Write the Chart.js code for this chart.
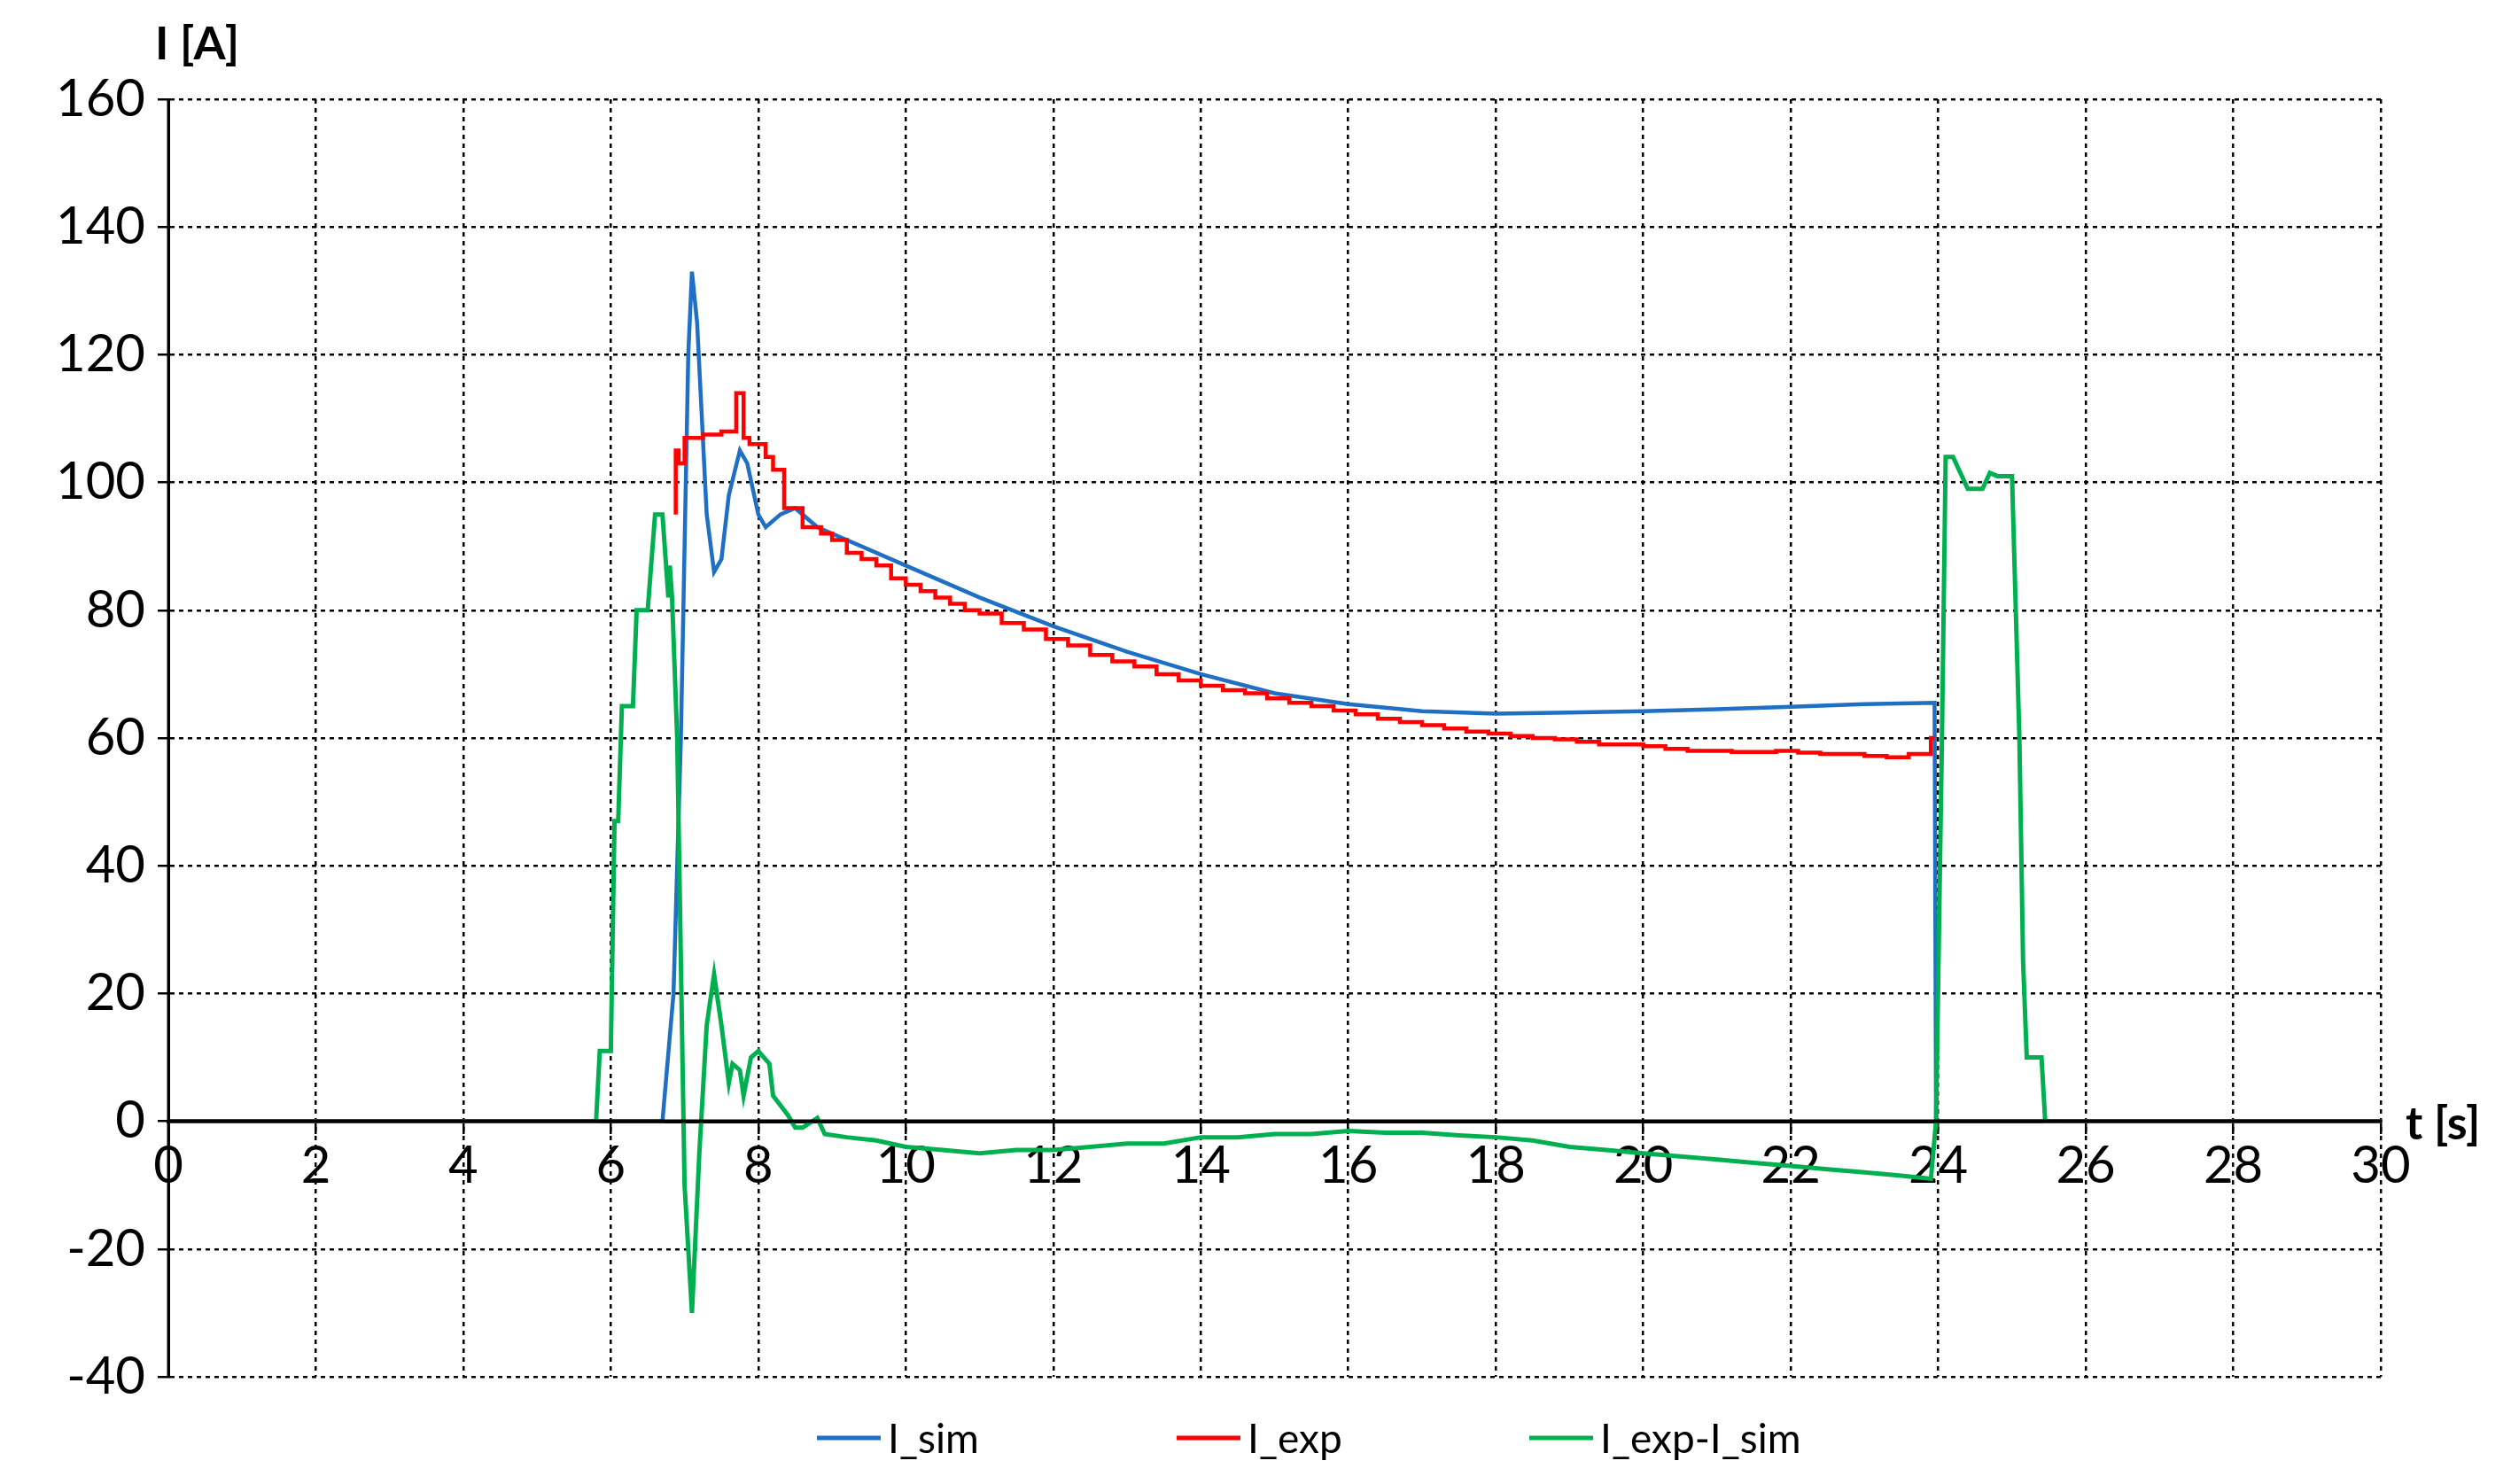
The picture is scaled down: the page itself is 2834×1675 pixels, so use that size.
<!DOCTYPE html>
<html><head><meta charset="utf-8">
<script src="https://cdn.jsdelivr.net/npm/chart.js@4.4.1/dist/chart.umd.min.js"></script>
<style>html,body{margin:0;padding:0;background:#fff}#w{width:2834px;height:1675px}</style>
</head><body><div id="w"><canvas id="c"></canvas></div>
<script>
const simT=[0,6.7,6.85,6.95,7.05,7.1,7.17,7.3,7.4,7.5,7.6,7.75,7.85,8.0,8.1,8.3,8.5,8.8,9.0,10,11,12,13,14,15,16,17,18,19,20,21,22,23,23.95,23.97,30];
const simV=[0,0,20,60,120,133,125,95,86,88,98,105,103,95,93,95,96,93,92,87,82,77.5,73.5,70,67,65.3,64.2,63.8,64,64.2,64.5,64.9,65.3,65.5,0,0];
const expT=[6.88,6.92,7.0,7.25,7.5,7.7,7.8,7.88,8.1,8.2,8.35,8.6,8.85,9.0,9.2,9.4,9.6,9.8,10.0,10.2,10.4,10.6,10.8,11.0,11.3,11.6,11.9,12.2,12.5,12.8,13.1,13.4,13.7,14.0,14.3,14.6,14.9,15.2,15.5,15.8,16.1,16.4,16.7,17.0,17.3,17.6,17.9,18.2,18.5,18.8,19.1,19.4,19.7,20.0,20.3,20.6,20.9,21.2,21.5,21.8,22.1,22.4,22.7,23.0,23.3,23.6,23.9,23.95];
const expV=[95,105,103,107,107.5,108,114,107,106,104,102,96,93,92,91,89,88,87,85,84,83,82,81,80,79.5,78,77,75.5,74.5,73,72,71.2,70,69,68.2,67.5,67,66.2,65.5,65,64.3,63.7,63,62.5,62,61.5,61,60.7,60.3,60,59.8,59.4,59,59,58.7,58.3,58,58,57.8,57.8,58,57.7,57.5,57.5,57.2,57,57.5,60];
const difT=[0,5.8,5.85,6.0,6.05,6.1,6.15,6.3,6.35,6.5,6.6,6.7,6.78,6.8,6.83,6.9,7.0,7.1,7.2,7.3,7.4,7.5,7.6,7.65,7.75,7.8,7.9,8.0,8.15,8.2,8.4,8.5,8.6,8.8,8.9,9.2,9.6,10,10.5,11,11.5,12,12.5,13,13.5,14,14.5,15,15.5,16,16.5,17,17.5,18,18.5,19,19.5,20,20.5,21,21.5,22,22.5,23,23.5,23.9,23.97,24.05,24.1,24.2,24.4,24.6,24.7,24.8,25.0,25.1,25.15,25.2,25.4,25.45,30];
const difV=[0,0,11,11,47,47,65,65,80,80,95,95,82,87,82,60,-10,-30,-5,15,23,15,6,9,8,4,10,11,9,4,1,-1,-1,0.5,-2,-2.5,-3,-4,-4.5,-5,-4.5,-4.5,-4,-3.5,-3.5,-2.5,-2.5,-2,-2,-1.5,-1.8,-1.8,-2.2,-2.5,-3,-4,-4.5,-5,-5.5,-6,-6.5,-7,-7.5,-8,-8.5,-9,0,60,104,104,99,99,101.5,101,101,60,25,10,10,0,0];
const yTicks=[-40,-20,0,20,40,60,80,100,120,140,160];
const pts=(t,v)=>t.map((x,i)=>({x:x,y:v[i]}));
const FONT='Lato, "Open Sans", sans-serif';
const titles={id:'titles',afterDraw(ch){const c=ch.ctx,a=ch.chartArea,y0=ch.scales.y.getPixelForValue(0);
c.save();c.fillStyle='#000';c.font='bold 52px '+FONT;c.textBaseline='middle';c.textAlign='left';
c.fillText('I [A]',175,50);c.fillText('t [s]',a.right+28,y0+4);
const lx=[922,1328,1726];c.font='46px '+FONT;
ch.data.datasets.forEach((d,i)=>{c.strokeStyle=d.borderColor;c.lineWidth=5;c.beginPath();c.moveTo(lx[i],1623);c.lineTo(lx[i]+72,1623);c.stroke();
c.fillStyle='#000';c.fillText(d.label,lx[i]+80,1625);});
c.restore();}};
new Chart(document.getElementById('c'),{type:'line',
data:{datasets:[
{label:'I_sim',data:pts(simT,simV),borderColor:'#1f6fc5',borderWidth:4.5,order:3},
{label:'I_exp',data:pts(expT,expV),borderColor:'#ff0000',borderWidth:4.5,order:2,stepped:'after'},
{label:'I_exp-I_sim',data:pts(difT,difV),borderColor:'#00b050',borderWidth:5,order:1}]},
options:{responsive:true,maintainAspectRatio:false,animation:false,
elements:{point:{radius:0},line:{tension:0}},
layout:{padding:{top:112,right:147,left:10,bottom:121}},
plugins:{legend:{display:false},tooltip:{enabled:false}},
scales:{
x:{type:'linear',min:0,max:30,position:{y:0},
ticks:{stepSize:2,color:'#000',font:{family:FONT,size:58},padding:4,maxRotation:0},
grid:{color:'#000',lineWidth:2.5,tickLength:12,tickColor:'#000'},border:{color:'#000',width:4,dash:[5,5]}},
y:{min:-40,max:160,afterFit(s){s.width=180;},
ticks:{stepSize:20,color:'#000',font:{family:FONT,size:58},padding:14},
afterBuildTicks(s){s.ticks=yTicks.map(v=>({value:v}));},
grid:{color:'#000',lineWidth:2.5,tickLength:12},border:{color:'#000',width:3,dash:[5,5]}}}},
plugins:[titles,{id:'axes',afterDatasetsDraw(ch){const c=ch.ctx,a=ch.chartArea,y0=ch.scales.y.getPixelForValue(0);
c.save();c.strokeStyle='#000';c.setLineDash([]);c.lineWidth=4;c.beginPath();c.moveTo(a.left,y0);c.lineTo(a.right,y0);c.stroke();
c.lineWidth=3;c.beginPath();c.moveTo(a.left,a.top);c.lineTo(a.left,a.bottom);c.stroke();c.restore();}}]});
</script></body></html>
